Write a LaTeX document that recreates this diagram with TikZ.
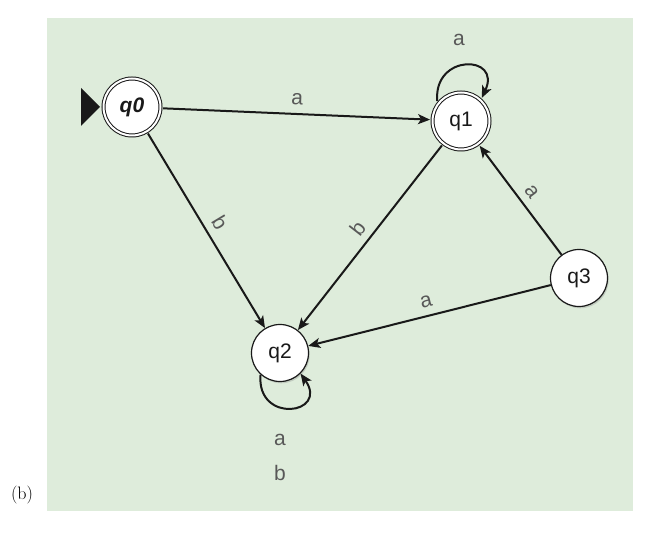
\documentclass[tikz,border=0pt]{standalone}
\usepackage{fontspec}
\newfontfamily\lsans{Liberation Sans}
\usetikzlibrary{arrows.meta,shadows}
\definecolor{bgg}{RGB}{222,236,219}
\definecolor{lblc}{RGB}{88,88,88}
\definecolor{ink}{RGB}{25,25,25}
\begin{document}
\begin{tikzpicture}[x=1pt,y=1pt,
  state/.style={circle, draw=ink, line width=1.2pt, fill=white, minimum size=57pt, inner sep=0pt,
    font=\lsans\fontsize{21}{24}\selectfont, text=ink,
    drop shadow={shadow xshift=1.2pt,shadow yshift=-1.8pt,opacity=0.3}},
  accept/.style={state, double=white, double distance=2pt, line width=1pt, outer sep=2.5pt},
  arr/.style={-{Stealth[length=12pt,width=10pt,inset=3pt]}, line width=2pt, ink},
  lbl/.style={font=\lsans\fontsize{21}{24}\selectfont, text=lblc, inner sep=1pt}]
\useasboundingbox (0,0) rectangle (660,532);
\fill[bgg] (47,21) rectangle (633,514);
\node[anchor=base, font=\fontsize{18}{20}\selectfont] (cap) at (22,33) {(b)};

\node[accept, font=\lsans\bfseries\itshape\fontsize{21}{24}\selectfont] (q0) at (132,425) {q0};
\node[accept] (q1) at (461,411) {q1};
\node[state] (q2) at (280,179) {q2};
\node[state] (q3) at (579,254) {q3};

\fill[ink] ([xshift=-1pt]q0.west) -- ++(-19,19) -- ++(0,-38) -- cycle;

\draw[arr] (q0) -- node[lbl, sloped, above=7pt] {a} (q1);
\draw[arr] (q0) -- node[lbl, sloped, above=6pt] {b} (q2);
\draw[arr] (q1) -- node[lbl, sloped, above=6pt] {b} (q2);
\draw[arr] (q3) -- node[lbl, sloped, above=6pt] {a} (q1);
\draw[arr] (q3) -- node[lbl, sloped, above=6pt] {a} (q2);

\draw[arr] (q1.140) .. controls +(95:48) and +(65:48) .. (q1.48);
\node[lbl] (l1) at (459,492) {a};

\draw[arr] (q2.228) .. controls +(265:50) and +(305:50) .. (q2.315);
\node[lbl] (l2a) at (280,92) {a};
\node[lbl] (l2b) at (280,59) {b};
\end{tikzpicture}
\end{document}
